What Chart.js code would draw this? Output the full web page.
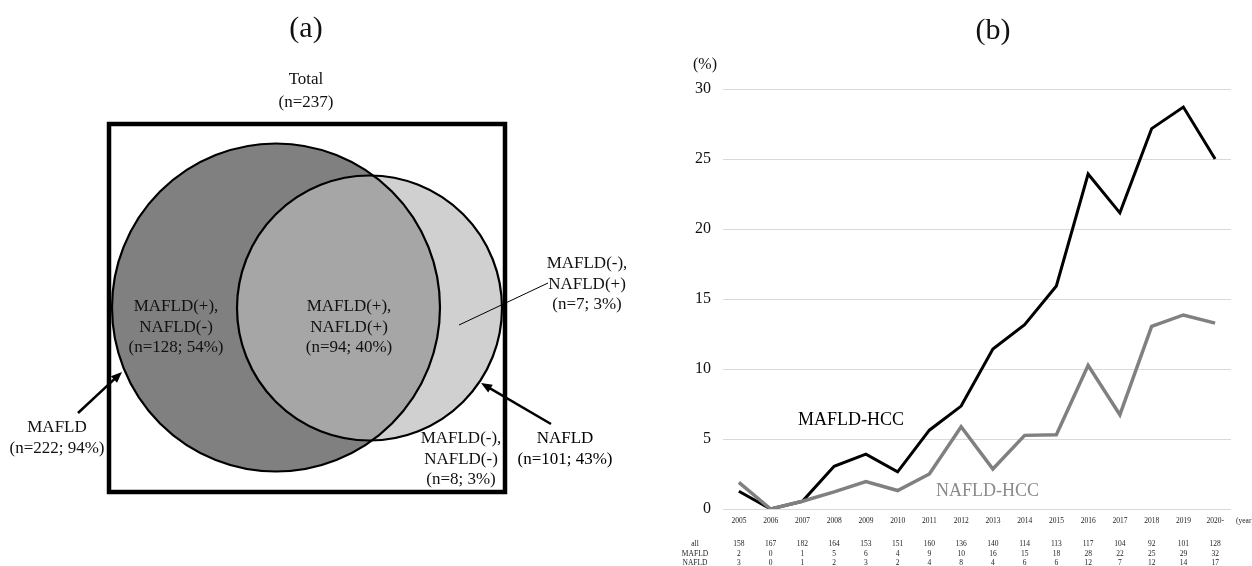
<!DOCTYPE html>
<html>
<head>
<meta charset="utf-8">
<title>MAFLD / NAFLD</title>
<script src="https://cdn.jsdelivr.net/npm/chart.js@4.4.1/dist/chart.umd.min.js"></script>
<style>
  html, body { margin: 0; padding: 0; background: #fff; overflow: hidden; }
  #wrap { position: relative; width: 1252px; height: 566px; }
  #wrap canvas { position: absolute; top: 0; }
  #venn { left: 0; }
  #trend { left: 626px; }
</style>
</head>
<body>
<div id="wrap">
  <canvas id="venn" width="626" height="566"></canvas>
  <canvas id="trend" width="626" height="566"></canvas>
</div>
<script>
// ---------- panel (a): overlap of MAFLD and NAFLD ----------
const totalCount = 237;
const setNames = ['MAFLD', 'NAFLD'];
const setCounts = [222, 101];
const setPercents = [94, 43];
const regionNames = [
  ['MAFLD(+),', 'NAFLD(-)'],
  ['MAFLD(+),', 'NAFLD(+)'],
  ['MAFLD(-),', 'NAFLD(+)'],
  ['MAFLD(-),', 'NAFLD(-)']
];
const regionCounts = [128, 94, 7, 8];
const regionPercents = [54, 40, 3, 3];

// ---------- panel (b): yearly share of HCC cases ----------
const years = ['2005', '2006', '2007', '2008', '2009', '2010', '2011', '2012',
               '2013', '2014', '2015', '2016', '2017', '2018', '2019', '2020-'];
const mafldHccPct = [1.27, 0, 0.55, 3.05, 3.92, 2.65, 5.63, 7.35,
                     11.43, 13.16, 15.93, 23.93, 21.15, 27.17, 28.71, 25.0];
const nafldHccPct = [1.90, 0, 0.55, 1.22, 1.96, 1.32, 2.50, 5.88,
                     2.86, 5.26, 5.31, 10.26, 6.73, 13.04, 13.86, 13.28];
const allCounts   = [158, 167, 182, 164, 153, 151, 160, 136, 140, 114, 113, 117, 104, 92, 101, 128];
const mafldCounts = [2, 0, 1, 5, 6, 4, 9, 10, 16, 15, 18, 28, 22, 25, 29, 32];
const nafldCounts = [3, 0, 1, 2, 3, 2, 4, 8, 4, 6, 6, 12, 7, 12, 14, 17];
const tableRowNames = ['all', 'MAFLD', 'NAFLD'];
const yMax = 30;
const yStep = 5;

const SERIF = "'Liberation Serif', 'Times New Roman', Times, serif";
const INK = '#111';

// Layout of panel (a), in pixels measured from the frame's top-left corner.
const vennLayout = {
  frame: { left: 109, top: 124, width: 396, height: 368 },
  circles: [ { x: 167, y: 183.5, r: 164 }, { x: 260.5, y: 184, r: 132.5 } ],
  regionAnchors: [ [67, 183], [240, 183], [478, 140], [352, 315] ],
  setAnchors: [ [-52, 304], [456, 315] ],
  setArrows: [ [[-31, 289], [13, 248]], [[442, 300], [372, 259]] ],
  leader: [[350, 201], [439, 159]],
  totalAnchor: [197, -44],
  titleAnchor: [197, -95],
  lineGap: 20.5
};

function drawArrow(ctx, x1, y1, x2, y2) {
  const ang = Math.atan2(y2 - y1, x2 - x1);
  const len = 11, half = 4.5;
  const bx = x2 - Math.cos(ang) * len, by = y2 - Math.sin(ang) * len;
  ctx.beginPath();
  ctx.moveTo(x1, y1);
  ctx.lineTo(bx + Math.cos(ang) * 2, by + Math.sin(ang) * 2);
  ctx.lineWidth = 2.5;
  ctx.strokeStyle = '#000';
  ctx.stroke();
  ctx.beginPath();
  ctx.moveTo(x2, y2);
  ctx.lineTo(bx - Math.sin(ang) * half, by + Math.cos(ang) * half);
  ctx.lineTo(bx + Math.sin(ang) * half, by - Math.cos(ang) * half);
  ctx.closePath();
  ctx.fillStyle = '#000';
  ctx.fill();
}

function textLines(ctx, lines, x, y, gap) {
  lines.forEach((t, i) => ctx.fillText(t, x, y + i * gap));
}

const vennAnnotations = {
  id: 'vennAnnotations',
  afterDatasetsDraw(chart) {
    const { ctx, chartArea: a, scales: { x, y } } = chart;
    const px = v => x.getPixelForValue(v);
    const py = v => y.getPixelForValue(v);
    const L = vennLayout;
    ctx.save();
    // frame holding the whole cohort
    ctx.lineWidth = 4.5;
    ctx.strokeStyle = '#000';
    ctx.strokeRect(a.left, a.top, a.right - a.left, a.bottom - a.top);

    ctx.fillStyle = INK;
    ctx.textAlign = 'center';
    ctx.textBaseline = 'middle';
    ctx.font = '30px ' + SERIF;
    ctx.fillText('(a)', px(L.titleAnchor[0]), py(L.titleAnchor[1]));

    ctx.font = '17px ' + SERIF;
    textLines(ctx, ['Total', '(n=' + totalCount + ')'],
              px(L.totalAnchor[0]), py(L.totalAnchor[1]), L.lineGap + 2);

    regionNames.forEach((names, i) => {
      const [ax, ay] = L.regionAnchors[i];
      textLines(ctx, [names[0], names[1], '(n=' + regionCounts[i] + '; ' + regionPercents[i] + '%)'],
                px(ax), py(ay), L.lineGap);
    });
    setNames.forEach((name, i) => {
      const [ax, ay] = L.setAnchors[i];
      textLines(ctx, [name, '(n=' + setCounts[i] + '; ' + setPercents[i] + '%)'],
                px(ax), py(ay), L.lineGap);
      const [[tx, ty], [hx, hy]] = L.setArrows[i];
      drawArrow(ctx, px(tx), py(ty), px(hx), py(hy));
    });

    // leader to the NAFLD-only crescent
    ctx.beginPath();
    ctx.moveTo(px(L.leader[0][0]), py(L.leader[0][1]));
    ctx.lineTo(px(L.leader[1][0]), py(L.leader[1][1]));
    ctx.lineWidth = 1;
    ctx.strokeStyle = '#000';
    ctx.stroke();
    ctx.restore();
  }
};

const f = vennLayout.frame;
const circle = i => [{ x: vennLayout.circles[i].x, y: vennLayout.circles[i].y, r: vennLayout.circles[i].r }];

new Chart(document.getElementById('venn'), {
  type: 'bubble',
  data: {
    datasets: [
      // fills: MAFLD underneath, NAFLD translucent over it so the overlap reads mid grey
      { label: setNames[0], data: circle(0), backgroundColor: '#808080', borderWidth: 0, order: 4, clip: false },
      { label: setNames[1], data: circle(1), backgroundColor: 'rgba(185,185,185,0.67)', borderWidth: 0, order: 3, clip: false },
      // outlines on top of both fills
      { label: setNames[0] + ' outline', data: circle(0), backgroundColor: 'rgba(0,0,0,0)', borderColor: '#000', borderWidth: 2.2, order: 2, clip: false },
      { label: setNames[1] + ' outline', data: circle(1), backgroundColor: 'rgba(0,0,0,0)', borderColor: '#000', borderWidth: 2.2, order: 1, clip: false }
    ]
  },
  options: {
    responsive: false,
    animation: false,
    devicePixelRatio: 1,
    events: [],
    layout: {
      autoPadding: false,
      padding: { left: f.left, top: f.top, right: 626 - f.left - f.width, bottom: 566 - f.top - f.height }
    },
    plugins: { legend: { display: false }, tooltip: { enabled: false } },
    scales: {
      x: { display: false, min: 0, max: f.width },
      y: { display: false, min: 0, max: f.height, reverse: true }
    }
  },
  plugins: [vennAnnotations]
});

// ---------- panel (b) ----------
const trendAnnotations = {
  id: 'trendAnnotations',
  afterDraw(chart) {
    const { ctx, chartArea: a, scales: { x, y } } = chart;
    ctx.save();
    ctx.textBaseline = 'middle';
    ctx.fillStyle = INK;

    ctx.textAlign = 'center';
    ctx.font = '30px ' + SERIF;
    ctx.fillText('(b)', 367, 31);

    ctx.font = '16px ' + SERIF;
    ctx.fillText('(%)', 79, 65);

    ctx.textAlign = 'left';
    ctx.font = '7.5px ' + SERIF;
    ctx.fillStyle = '#222';
    ctx.fillText('(year)', a.right + 5, a.bottom + 12);

    // case counts under each year
    ctx.textAlign = 'center';
    const rows = [allCounts, mafldCounts, nafldCounts];
    const rowY = [a.bottom + 35.5, a.bottom + 45, a.bottom + 54.5];
    rows.forEach((vals, r) => {
      ctx.fillText(tableRowNames[r], 69, rowY[r]);
      vals.forEach((v, i) => ctx.fillText(String(v), x.getPixelForValue(i), rowY[r]));
    });

    // series names next to the lines
    ctx.font = '18px ' + SERIF;
    ctx.fillStyle = '#000';
    ctx.fillText('MAFLD-HCC', x.getPixelForValue(3.53), y.getPixelForValue(6.36));
    ctx.fillStyle = '#8a8a8a';
    ctx.fillText('NAFLD-HCC', x.getPixelForValue(7.83), y.getPixelForValue(1.29));
    ctx.restore();
  }
};

new Chart(document.getElementById('trend'), {
  type: 'line',
  data: {
    labels: years,
    datasets: [
      { label: 'MAFLD-HCC', data: mafldHccPct, borderColor: '#000', borderWidth: 3,
        pointRadius: 0, tension: 0, borderJoinStyle: 'miter', fill: false, order: 2 },
      { label: 'NAFLD-HCC', data: nafldHccPct, borderColor: '#808080', borderWidth: 3.5,
        pointRadius: 0, tension: 0, borderJoinStyle: 'miter', fill: false, order: 1 }
    ]
  },
  options: {
    responsive: false,
    animation: false,
    devicePixelRatio: 1,
    events: [],
    layout: { padding: { top: 89, right: 21, left: 0, bottom: 0 } },
    plugins: { legend: { display: false }, tooltip: { enabled: false } },
    scales: {
      x: {
        offset: true,
        grid: { display: false, drawTicks: false },
        border: { display: false },
        ticks: { font: { family: SERIF, size: 7.5 }, color: '#222', padding: 8,
                 maxRotation: 0, autoSkip: false },
        afterFit: s => { s.height = 57; }
      },
      y: {
        min: 0, max: yMax,
        ticks: { stepSize: yStep, font: { family: SERIF, size: 16 }, color: INK, padding: 12 },
        grid: { color: '#d9d9d9', lineWidth: 1, drawTicks: false },
        border: { display: false },
        afterFit: s => { s.width = 97; }
      }
    }
  },
  plugins: [trendAnnotations]
});
</script>
</body>
</html>
